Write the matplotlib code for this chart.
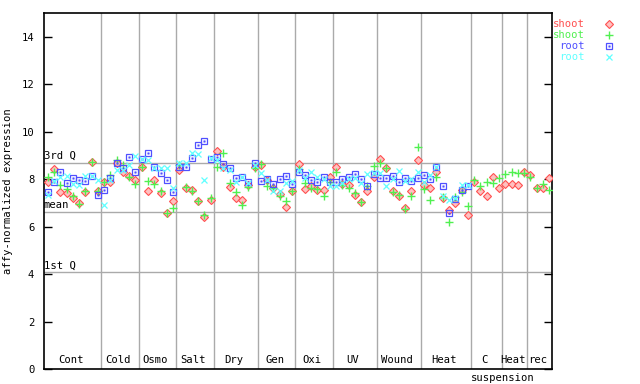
import numpy as np
import matplotlib
matplotlib.use("Agg")
import matplotlib.pyplot as plt
from matplotlib.lines import Line2D

nan = np.nan

groups = ["Cont", "Cold", "Osmo", "Salt", "Dry", "Gen", "Oxi", "UV", "Wound", "Heat", "C", "Heat", "rec"]
group_sizes = [9, 6, 6, 6, 7, 6, 6, 7, 7, 8, 5, 4, 4]
sub_label = "suspension"

shoot_red = [7.86, 8.42, 7.45, 7.41, 7.20, 7.01, 7.45, 8.72, 7.48,
             7.87, 7.87, 8.67, 8.32, 8.15, 7.97,
             8.51, 7.51, 7.97, 7.41, 6.57, 7.09,
             8.39, 7.62, 7.55, 7.06, 6.40, 7.10,
             9.19, 8.51, 7.66, 7.20, 7.13, 7.75, 8.50,
             8.60, 7.95, 7.62, 7.38, 6.82, 7.48,
             8.65, 7.59, 7.70, 7.53, 7.55, 8.11,
             8.51, 7.80, 7.76, 7.34, 7.03, 7.48, 8.11,
             8.84, 8.46, 7.48, 7.30, 6.78, 7.48, 8.79,
             7.76, 7.62, 8.32, 7.20, 6.68, 7.01, 7.55, 6.50,
             7.90, 7.48, 7.30, 8.07, 7.62,
             7.79, 7.79, 7.76, 8.32,
             8.18, 7.62, 7.62, 8.04]
shoot_green = [8.09, 8.32, 7.76, 7.58, 7.27, 6.96, 7.48, 8.72, 7.48,
               7.87, 8.18, 8.79, 8.58, 8.09, 7.80,
               8.51, 7.93, 7.79, 7.48, 6.57, 6.80,
               8.60, 7.66, 7.51, 7.09, 6.50, 7.20,
               8.53, 9.09, 7.83, 7.45, 6.92, 7.66, 8.46,
               8.63, 7.69, 7.62, 7.30, 7.09, 7.48,
               8.42, 7.83, 7.62, 7.60, 7.30, 7.90,
               8.29, 7.76, 7.62, 7.41, 7.03, 7.72, 8.56,
               8.70, 8.46, 7.45, 7.35, 6.74, 7.27, 9.35,
               7.58, 7.13, 8.09, 7.24, 6.19, 7.24, 7.45, 6.87,
               7.97, 7.69, 7.87, 7.83, 8.04,
               8.21, 8.29, 8.25, 8.25,
               8.11, 7.62, 7.79, 7.55]
root_blue = [7.44, 7.90, 8.29, 7.84, 8.04, 7.96, 7.93, 8.15, 7.34,
             7.55, 8.04, 8.67, 8.46, 8.93, 8.29,
             8.84, 9.09, 8.53, 8.25, 7.97, 7.45,
             8.53, 8.53, 8.88, 9.45, 9.62, 8.86,
             8.93, 8.63, 8.46, 8.04, 8.07, 7.90, 8.70,
             7.93, 8.00, 7.80, 8.00, 8.14, 7.80,
             8.32, 8.18, 7.97, 7.86, 8.11, 7.90,
             7.90, 8.00, 8.11, 8.21, 8.00, 7.72, 8.22,
             8.04, 8.04, 8.14, 7.90, 8.04, 7.93, 8.04,
             8.18, 8.00, 8.53, 7.72, 6.57, 7.16, 7.55, 7.72,
             nan, nan, nan, nan, nan,
             nan, nan, nan, nan,
             nan, nan, nan, nan]
root_cyan = [7.34, 7.93, 8.11, 8.15, 7.80, 7.76, 8.15, 8.15, 7.97,
             6.92, 7.97, 8.39, 8.37, 8.58, 8.96,
             8.84, 8.81, 8.46, 8.46, 8.46, 7.62,
             8.67, 8.67, 9.09, 9.05, 7.97, 8.90,
             8.81, 8.46, 8.39, 7.90, 8.09, 7.83, 8.60,
             8.25, 7.95, 7.48, 7.51, 7.83, 7.94,
             8.40, 8.04, 8.28, 8.11, 8.00, 7.69,
             7.69, 7.85, 8.00, 8.04, 7.83, 8.22, 8.25,
             8.25, 7.72, 8.00, 8.36, 7.93, 8.00, 8.32,
             7.90, 8.18, 8.50, 7.30, 7.13, 7.20, 7.76, 7.76,
             nan, nan, nan, nan, nan,
             nan, nan, nan, nan,
             nan, nan, nan, nan]

q_labels = ["3rd Q", "mean", "1st Q"]
q_values = [8.69, 6.62, 4.09]

legend_labels = ["shoot", "shoot", "root", "root"]
yticks = [0, 2, 4, 6, 8, 10, 12, 14]

# ---------------- styling ----------------
RED = "#ff5050"
GREEN = "#50f050"
BLUE = "#5050ff"
CYAN = "#60ffff"
GRID = "#aaaaaa"
FONT = "DejaVu Sans Mono"
FS = 7.6

W, H = 640, 384
fig = plt.figure(figsize=(W / 100, H / 100), dpi=100)
L, R, T, B = 44, 552, 13, 369
ax = fig.add_axes([L / W, 1 - B / H, (R - L) / W, (B - T) / H])

n = len(shoot_red)
x = np.arange(n)
ax.set_xlim(-0.59, n - 1 + 0.43)
ax.set_ylim(0, 15)

# quartile / mean lines
for lab, v in zip(q_labels, q_values):
    ax.axhline(v, color=GRID, lw=1.0, zorder=1)
    ax.text(0.0, v + 0.07, lab, transform=ax.get_yaxis_transform(), ha="left", va="bottom",
            family=FONT, fontsize=FS, zorder=5)

# group separators and labels
bounds = np.cumsum(group_sizes)
starts = np.concatenate([[0], bounds[:-1]])
for b in bounds[:-1]:
    ax.axvline(b - 0.5, color=GRID, lw=1.0, zorder=1)
for g, s, sz in zip(groups, starts, group_sizes):
    cx = s + (sz - 1) / 2.0 - 0.3
    ax.text(cx, 0.012, g, transform=ax.get_xaxis_transform(), ha="center", va="bottom",
            family=FONT, fontsize=FS)
ci = groups.index("C")
ax.text(starts[ci] + group_sizes[ci] - 0.5, -0.012, sub_label, transform=ax.get_xaxis_transform(),
        ha="center", va="top", family=FONT, fontsize=FS)

# markers
mk_red = dict(marker="D", ms=3.8, mfc="#ffc0c0", mec=RED, mew=0.8)
mk_green = dict(marker="+", ms=6.0, mec=GREEN, mew=1.0)
mk_blue = dict(marker="s", ms=4.6, mfc="none", mec=BLUE, mew=0.9)
mk_blue_dot = dict(marker="s", ms=1.1, mfc=BLUE, mec=BLUE, mew=0.3)
mk_cyan = dict(marker="x", ms=4.6, mec=CYAN, mew=0.9)

ax.plot(x, shoot_red, ls="none", zorder=3, **mk_red)
ax.plot(x, shoot_green, ls="none", zorder=3, **mk_green)
ax.plot(x, root_blue, ls="none", zorder=3, **mk_blue)
ax.plot(x, root_blue, ls="none", zorder=3, **mk_blue_dot)
ax.plot(x, root_cyan, ls="none", zorder=3, **mk_cyan)

# axes styling
ax.set_xticks([])
ax.set_yticks(yticks)
ax.set_yticklabels([str(t) for t in yticks], family=FONT, fontsize=FS)
ax.tick_params(axis="y", direction="in", length=6, width=1, pad=7, right=True, labelright=False)
for sp in ax.spines.values():
    sp.set_linewidth(1.2)
    sp.set_color("black")
ax.set_ylabel("affy-normalized expression", family=FONT, fontsize=FS, labelpad=6)
ax.yaxis.set_label_coords(-0.062, 0.5)

# legend outside on the right
colors = [RED, GREEN, BLUE, CYAN]
ys = [24, 35, 46, 57]
for lab, c, yy in zip(legend_labels, colors, ys):
    fig.text(585 / W, 1 - yy / H, lab, color=c, ha="right", va="center", family=FONT, fontsize=FS)
for yy, kw in zip(ys, [mk_red, mk_green, mk_blue, mk_cyan]):
    fig.add_artist(Line2D([609 / W], [1 - yy / H], transform=fig.transFigure, ls="none", **kw))
fig.add_artist(Line2D([609 / W], [1 - 46 / H], transform=fig.transFigure, ls="none", **mk_blue_dot))

fig.savefig("out.png", dpi=100)
